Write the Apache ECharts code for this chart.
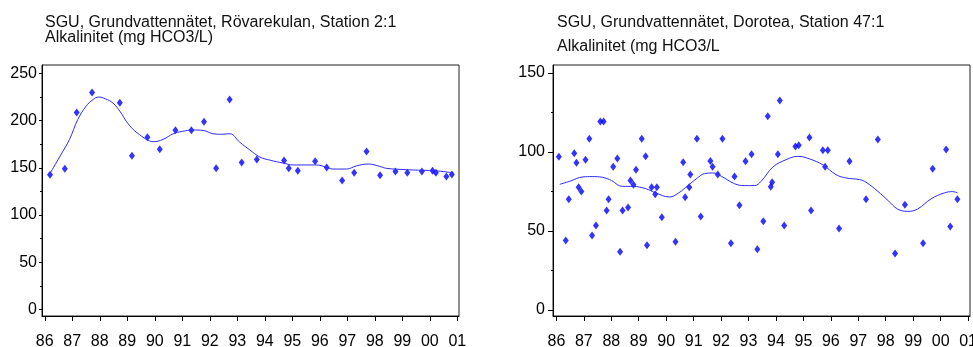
<!DOCTYPE html>
<html><head><meta charset="utf-8">
<script src="https://cdn.jsdelivr.net/npm/echarts@6/dist/echarts.min.js"></script>
<style>html,body{margin:0;padding:0;background:#fff}#c{width:973px;height:347px}</style>
</head><body><div id="c"></div>
<script>
// Left chart: Rövarekulan, Station 2:1 (years as 86..101 => 1986..2001)
const titleLeft = ['SGU, Grundvattennätet, Rövarekulan, Station 2:1', 'Alkalinitet (mg HCO3/L)'];
const titleRight = ['SGU, Grundvattennätet, Dorotea, Station 47:1', 'Alkalinitet (mg HCO3/L'];
const yearTicks = [86,87,88,89,90,91,92,93,94,95,96,97,98,99,100,101];
const leftYTicks = [0,50,100,150,200,250];
const leftYMinor = [25,75,125,175,225];
const rightYTicks = [0,50,100,150];
const rightYMinor = [25,75,125];

const leftPointYears = [86.19,86.73,87.16,87.72,88.73,89.17,89.73,90.18,90.75,91.33,91.79,92.23,92.72,93.16,93.71,94.70,94.87,95.20,95.83,96.25,96.81,97.25,97.70,98.19,98.75,99.18,99.71,100.10,100.22,100.60,100.80];
const leftPointValues = [142.7,149,208.6,229.7,218.8,162.8,182.2,169.5,189.6,189.6,198.7,149.4,222.3,155.7,158.9,157.8,149.4,146.9,156.8,150.4,136.7,144.8,167.3,142.0,146.2,144.8,146.2,146.9,144.8,140.9,143.0];

const leftCurveYears = [86.2,86.55,86.9,87.2,87.5,87.75,87.96,88.2,88.48,88.75,88.97,89.2,89.45,89.7,89.94,90.3,90.67,91.0,91.39,91.76,92.12,92.4,92.73,93.09,93.45,93.82,94.2,94.67,95.03,95.45,95.88,96.2,96.48,96.97,97.33,97.76,98.18,98.43,99.15,99.6,100.12,100.5,100.85];
const leftCurveValues = [144.5,162,180,201,215,222,224.8,223,218.5,209,199,191,185,180,177.6,180,186,188.5,190,189.5,186,185.5,186,177,169,161.4,158,155,153,153,153,151,148.7,148.7,152,154,151.5,149.4,148,147.5,147,146,144.5];

const rightPointYears = [86.09,86.34,86.45,86.65,86.73,86.81,86.91,87.06,87.20,87.30,87.44,87.60,87.72,87.83,87.90,88.07,88.22,88.32,88.41,88.61,88.70,88.81,88.90,89.11,89.25,89.30,89.47,89.60,89.66,89.84,90.34,90.62,90.69,90.84,90.88,91.12,91.26,91.61,91.69,91.88,92.05,92.36,92.49,92.67,92.89,93.11,93.32,93.54,93.70,93.81,93.86,94.07,94.14,94.30,94.71,94.83,95.22,95.28,95.71,95.79,95.89,96.30,96.68,97.28,97.71,98.34,98.70,99.36,99.71,100.20,100.35,100.61];
const rightPointValues = [97.0,43.9,70.0,99.1,93.2,77.6,74.9,95.1,108.4,47.2,53.5,119.2,119.2,63.0,70.0,90.7,95.8,36.9,63.0,64.9,82.0,79.3,88.8,108.4,97.2,40.9,77.6,73.2,77.6,58.6,43.2,93.4,71.3,77.6,85.8,108.4,59.2,94.3,90.7,85.8,108.4,42.2,84.4,66.2,94.1,98.5,38.4,56.1,122.5,78.0,80.8,98.5,132.5,53.5,103.5,104.2,109.2,63.0,101.0,90.7,101.0,51.6,94.1,70.0,107.8,35.8,66.6,42.2,89.4,101.5,52.9,70.0];

const rightCurveYears = [86.12,86.48,86.97,87.3,87.58,87.94,88.42,88.79,89.28,89.6,90.12,90.45,90.79,91.1,91.4,91.7,92.01,92.49,92.85,93.22,93.46,93.89,94.37,94.8,95.22,95.71,96.19,96.56,97.04,97.28,97.71,98.1,98.43,98.8,99.16,99.65,100.14,100.44,100.61];
const rightCurveValues = [79.5,81.4,84.2,84.4,84.2,82.5,78.2,78.2,76.6,74.2,71.5,74,78.7,83,86.3,86.7,84.6,79.9,78.7,78.7,81.4,90.5,95.1,97.2,95.6,91.8,85.6,83.5,82.5,80.8,75.1,69,63.9,62.4,63.9,70.3,74.1,74.9,74.1];

const FONT = 'Liberation Sans, Arial, sans-serif';
const pair = (xs, ys) => xs.map((x, i) => [x, ys[i]]);
const yrFmt = v => String(Math.round(v) % 100).padStart(2, '0');
const BLUE = '#0000ff';

function xAxisCfg(gi, min, max) {
  return {
    type: 'value', gridIndex: gi, min, max, position: 'bottom',
    axisLine: { show: true, onZero: false, lineStyle: { color: '#000', width: 1 } },
    axisTick: { show: true, customValues: yearTicks, length: 5, lineStyle: { color: '#000' } },
    axisLabel: { customValues: yearTicks, formatter: yrFmt, fontFamily: FONT, fontSize: 16, color: '#000', margin: 18 },
    splitLine: { show: false }
  };
}
function yAxisCfg(gi, min, max, ticks, margin, len) {
  return {
    type: 'value', gridIndex: gi, min, max, position: 'left',
    axisLine: { show: true, onZero: false, lineStyle: { color: '#000', width: 1 } },
    axisTick: { show: true, customValues: ticks, length: len, lineStyle: { color: '#000' } },
    axisLabel: { customValues: ticks, fontFamily: FONT, fontSize: 16, color: '#000', margin },
    splitLine: { show: false }
  };
}
function yMinorCfg(gi, min, max, ticks) {
  return {
    type: 'value', gridIndex: gi, min, max, position: 'left', offset: 0,
    axisLine: { show: false, onZero: false },
    axisTick: { show: true, customValues: ticks, length: 2, lineStyle: { color: '#000' } },
    axisLabel: { show: false },
    splitLine: { show: false }
  };
}

const chart = echarts.init(document.getElementById('c'), null, { renderer: 'canvas' });
const textStyle = (x, y, t) => ({ type: 'text', left: x, top: y, style: { text: t, fontFamily: FONT, fontSize: 16, fill: '#111' } });

chart.setOption({
  animation: false,
  backgroundColor: '#fff',
  grid: [
    { left: 42, top: 65, width: 417, height: 251, show: true, borderColor: '#222', borderWidth: 1, backgroundColor: 'transparent', containLabel: false, outerBoundsMode: 'none' },
    { left: 553, top: 65, width: 417, height: 251, show: true, borderColor: '#222', borderWidth: 1, backgroundColor: 'transparent', containLabel: false, outerBoundsMode: 'none' }
  ],
  xAxis: [xAxisCfg(0, 85.9, 101.06), xAxisCfg(1, 85.876, 101.07)],
  yAxis: [
    yAxisCfg(0, -6.7, 258.7, leftYTicks, 5, 3),
    yAxisCfg(1, -3.8, 155.0, rightYTicks, 8, 5),
    yMinorCfg(0, -6.7, 258.7, leftYMinor),
    yMinorCfg(1, -3.8, 155.0, rightYMinor)
  ],
  graphic: [
    textStyle(45, 15, titleLeft[0]),
    textStyle(45, 30, titleLeft[1]),
    textStyle(557, 15, titleRight[0]),
    textStyle(557, 39, titleRight[1])
  ],
  series: [
    { type: 'line', xAxisIndex: 0, yAxisIndex: 0, data: pair(leftCurveYears, leftCurveValues), smooth: 0.4, showSymbol: false, lineStyle: { color: '#2a2aff', width: 1 } },
    { type: 'scatter', xAxisIndex: 0, yAxisIndex: 0, data: pair(leftPointYears, leftPointValues), symbol: 'diamond', symbolSize: [6, 8], itemStyle: { color: BLUE } },
    { type: 'line', xAxisIndex: 1, yAxisIndex: 1, data: pair(rightCurveYears, rightCurveValues), smooth: 0.4, showSymbol: false, lineStyle: { color: '#2a2aff', width: 1 } },
    { type: 'scatter', xAxisIndex: 1, yAxisIndex: 1, data: pair(rightPointYears, rightPointValues), symbol: 'diamond', symbolSize: [6, 8], itemStyle: { color: BLUE } }
  ]
});
</script></body></html>
